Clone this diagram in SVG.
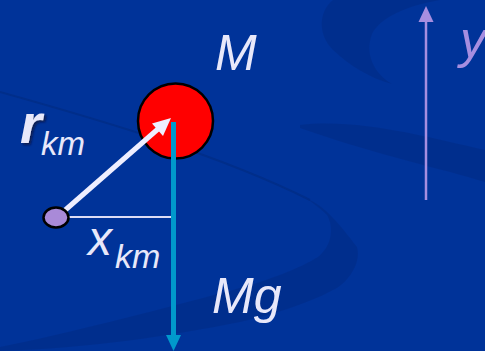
<svg xmlns="http://www.w3.org/2000/svg" width="485" height="351" viewBox="0 0 485 351">
<defs>
<filter id="shadow" x="-20%" y="-20%" width="160%" height="160%">
<feDropShadow dx="2" dy="2" stdDeviation="0.8" flood-color="#101030" flood-opacity="0.7"/>
</filter>
</defs>
<style>
.bg{fill:#003399}
.dark{fill:#002e8a;opacity:0.75}
.lbl{font-family:"Liberation Sans",Arial,sans-serif;font-style:italic;fill:#e8e8fa}
.ylbl{font-family:"Liberation Sans",Arial,sans-serif;font-style:italic;fill:#a68ee0}
</style>
<rect class="bg" x="0" y="0" width="485" height="351"/>
<g id="background">
<path class="dark" d="M333,0 C318,12 318,35 333,50 C350,66 370,78 392,84 C372,72 365,52 372,34 C380,18 405,6 440,0 Z"/>
<path class="dark" d="M300,125 C360,118 430,138 485,150 L485,182 C440,168 380,156 300,128 Z" opacity="0.18"/>
<path d="M0,92 C50,106 100,120 160,140 C220,160 270,180 310,200" fill="none" stroke="#002e8a" stroke-width="2"/>
<path class="dark" d="M305,198 C325,205 340,225 357,247 C362,265 345,285 333,290 C305,305 270,315 240,322 C170,336 90,348 0,351 L0,347 C70,333 150,312 233,290 C270,280 300,268 318,257 C334,244 333,225 327,215 C320,208 312,202 305,198 Z"/>
</g>
<g id="connectors">
<line x1="69" y1="217" x2="172" y2="217" stroke="#dcdcf5" stroke-width="2"/>
<g id="Mg-force">
<line x1="173.5" y1="122" x2="173.5" y2="336" stroke="#0099cc" stroke-width="5"/>
<polygon points="166,335 181,335 173.5,351" fill="#0099cc"/>
</g>
<g id="y-axis">
<line x1="426" y1="200" x2="426" y2="20" stroke="#a68ee0" stroke-width="2.5"/>
<polygon points="426,6 418.5,22 433.5,22" fill="#a68ee0"/>
</g>
</g>
<g id="mass">
<circle cx="175.5" cy="121" r="37.5" fill="#ff0000" stroke="#000" stroke-width="2.5"/>
</g>
<g id="mg-line-over">
<line x1="173.5" y1="122" x2="173.5" y2="160" stroke="#0099cc" stroke-width="5"/>
</g>
<g id="r-vector">
<line x1="63" y1="212" x2="158" y2="129" stroke="#eeeeff" stroke-width="5"/>
<polygon points="171,118 152,123.5 163,136" fill="#eeeeff"/>
</g>
<g id="pivot">
<ellipse cx="56" cy="217.5" rx="12.5" ry="10" fill="#a98ad8" stroke="#000" stroke-width="2.5"/>
</g>
<g id="labels">
<text class="lbl" x="215" y="70" font-size="50">M</text>
<text class="lbl" x="212" y="313" font-size="50">Mg</text>
<text class="lbl" x="20" y="143" font-size="56" font-weight="bold" filter="url(#shadow)">r</text>
<text class="lbl" x="41" y="155" font-size="33">km</text>
<text class="lbl" x="88" y="255" font-size="48">x</text>
<text class="lbl" x="115" y="268" font-size="34">km</text>
<text class="ylbl" x="460" y="57" font-size="52">y</text>
</g>
</svg>
